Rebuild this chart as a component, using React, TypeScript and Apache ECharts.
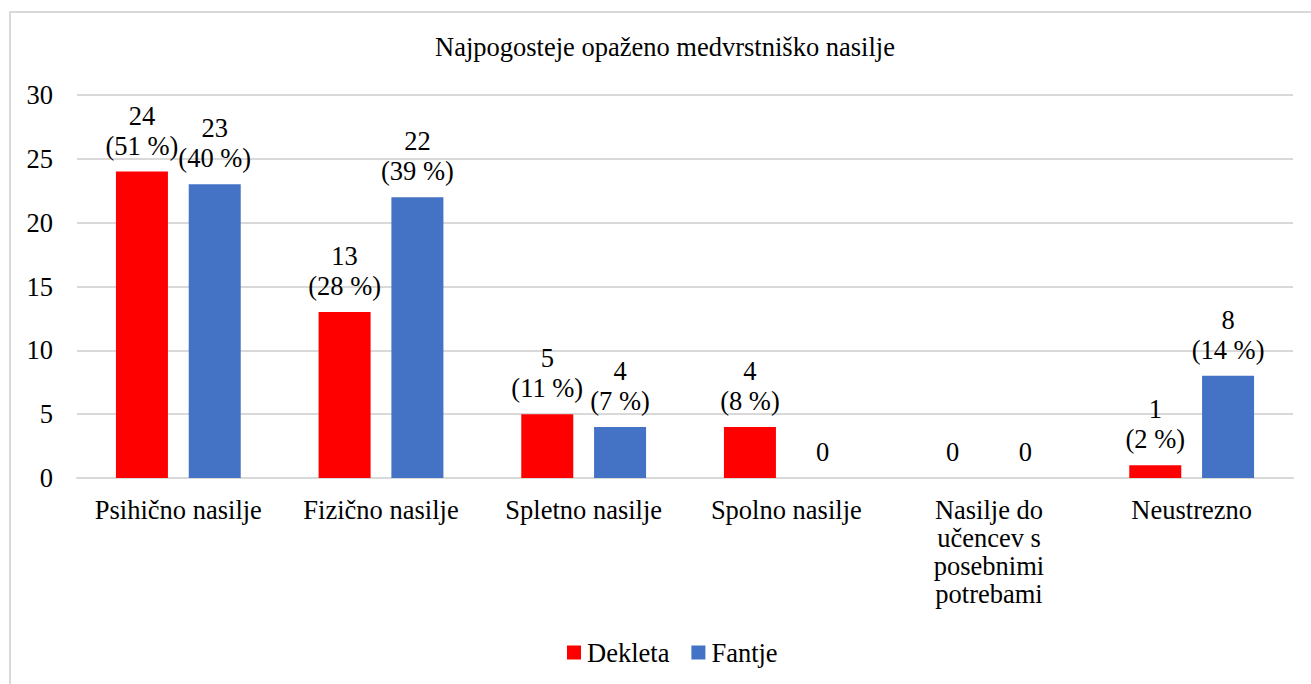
import React, { useEffect, useRef } from "react";
import * as echarts from "echarts";

const categories = [
  "Psihično nasilje",
  "Fizično nasilje",
  "Spletno nasilje",
  "Spolno nasilje",
  "Nasilje do\nučencev s\nposebnimi\npotrebami",
  "Neustrezno",
];
const girlsCounts = [24, 13, 5, 4, 0, 1];
const girlsPercents = [51, 28, 11, 8, null, 2];
const boysCounts = [23, 22, 4, 0, 0, 8];
const boysPercents = [40, 39, 7, null, null, 14];
const yTicks = { min: 0, max: 30, interval: 5 };
const titleText = "Najpogosteje opaženo medvrstniško nasilje";
const seriesNames = ["Dekleta", "Fantje"];

const FONT = '"Liberation Serif", "Times New Roman", serif';
const FS = 26.5;

export default function App() {
  const ref = useRef<HTMLDivElement>(null);
  useEffect(() => {
    if (!ref.current) return;
    const chart = echarts.init(ref.current, null, { renderer: "svg" });
    const mkLabel = (perc: (number | null)[]) => ({
      show: true,
      position: "top",
      distance: 11,
      color: "#000",
      fontFamily: FONT,
      fontSize: FS,
      lineHeight: 30,
      formatter: (p: any) =>
        p.value === 0 || perc[p.dataIndex] == null
          ? String(p.value)
          : `${p.value}\n(${perc[p.dataIndex]} %)`,
    });
    chart.setOption({
      animation: false,
      backgroundColor: "#fff",
      textStyle: { fontFamily: FONT, color: "#000" },
      title: {
        text: titleText,
        left: 435,
        top: 33,
        padding: 0,
        textStyle: { fontFamily: FONT, fontSize: FS, fontWeight: "normal", color: "#000" },
      },
      graphic: [
        {
          type: "rect",
          shape: { x: 10, y: 12, width: 1400, height: 800 },
          style: { fill: "none", stroke: "#d9d9d9", lineWidth: 2 },
          silent: true,
        },
      ],
      legend: {
        left: 567,
        top: 639,
        padding: 0,
        itemWidth: 14,
        itemHeight: 14,
        itemGap: 22,
        icon: "rect",
        textStyle: { fontFamily: FONT, fontSize: FS, color: "#000", padding: [0, 0, 0, 1] },
        data: seriesNames,
      },
      grid: { left: 77, right: 18, top: 95, bottom: 206, containLabel: false },
      xAxis: {
        type: "category",
        data: categories,
        axisLine: { show: true, lineStyle: { color: "#d9d9d9", width: 2 } },
        axisTick: { show: false },
        axisLabel: {
          interval: 0,
          margin: 18,
          color: "#000",
          fontFamily: FONT,
          fontSize: FS,
          lineHeight: 28,
        },
      },
      yAxis: {
        type: "value",
        min: yTicks.min,
        max: yTicks.max,
        interval: yTicks.interval,
        axisLine: { show: false },
        axisTick: { show: false },
        splitLine: { show: true, lineStyle: { color: "#d9d9d9", width: 2 } },
        axisLabel: { margin: 24, color: "#000", fontFamily: FONT, fontSize: FS },
      },
      series: [
        {
          name: seriesNames[0],
          type: "bar",
          data: girlsCounts,
          barWidth: 52,
          barGap: "40%",
          itemStyle: { color: "#ff0000" },
          label: mkLabel(girlsPercents),
        },
        {
          name: seriesNames[1],
          type: "bar",
          data: boysCounts,
          barWidth: 52,
          barGap: "40%",
          itemStyle: { color: "#4472c4" },
          label: mkLabel(boysPercents),
        },
      ],
    });
    return () => chart.dispose();
  }, []);
  return (
    <div
      ref={ref}
      style={{ position: "fixed", left: 0, top: 0, width: 1311, height: 684 }}
    />
  );
}
